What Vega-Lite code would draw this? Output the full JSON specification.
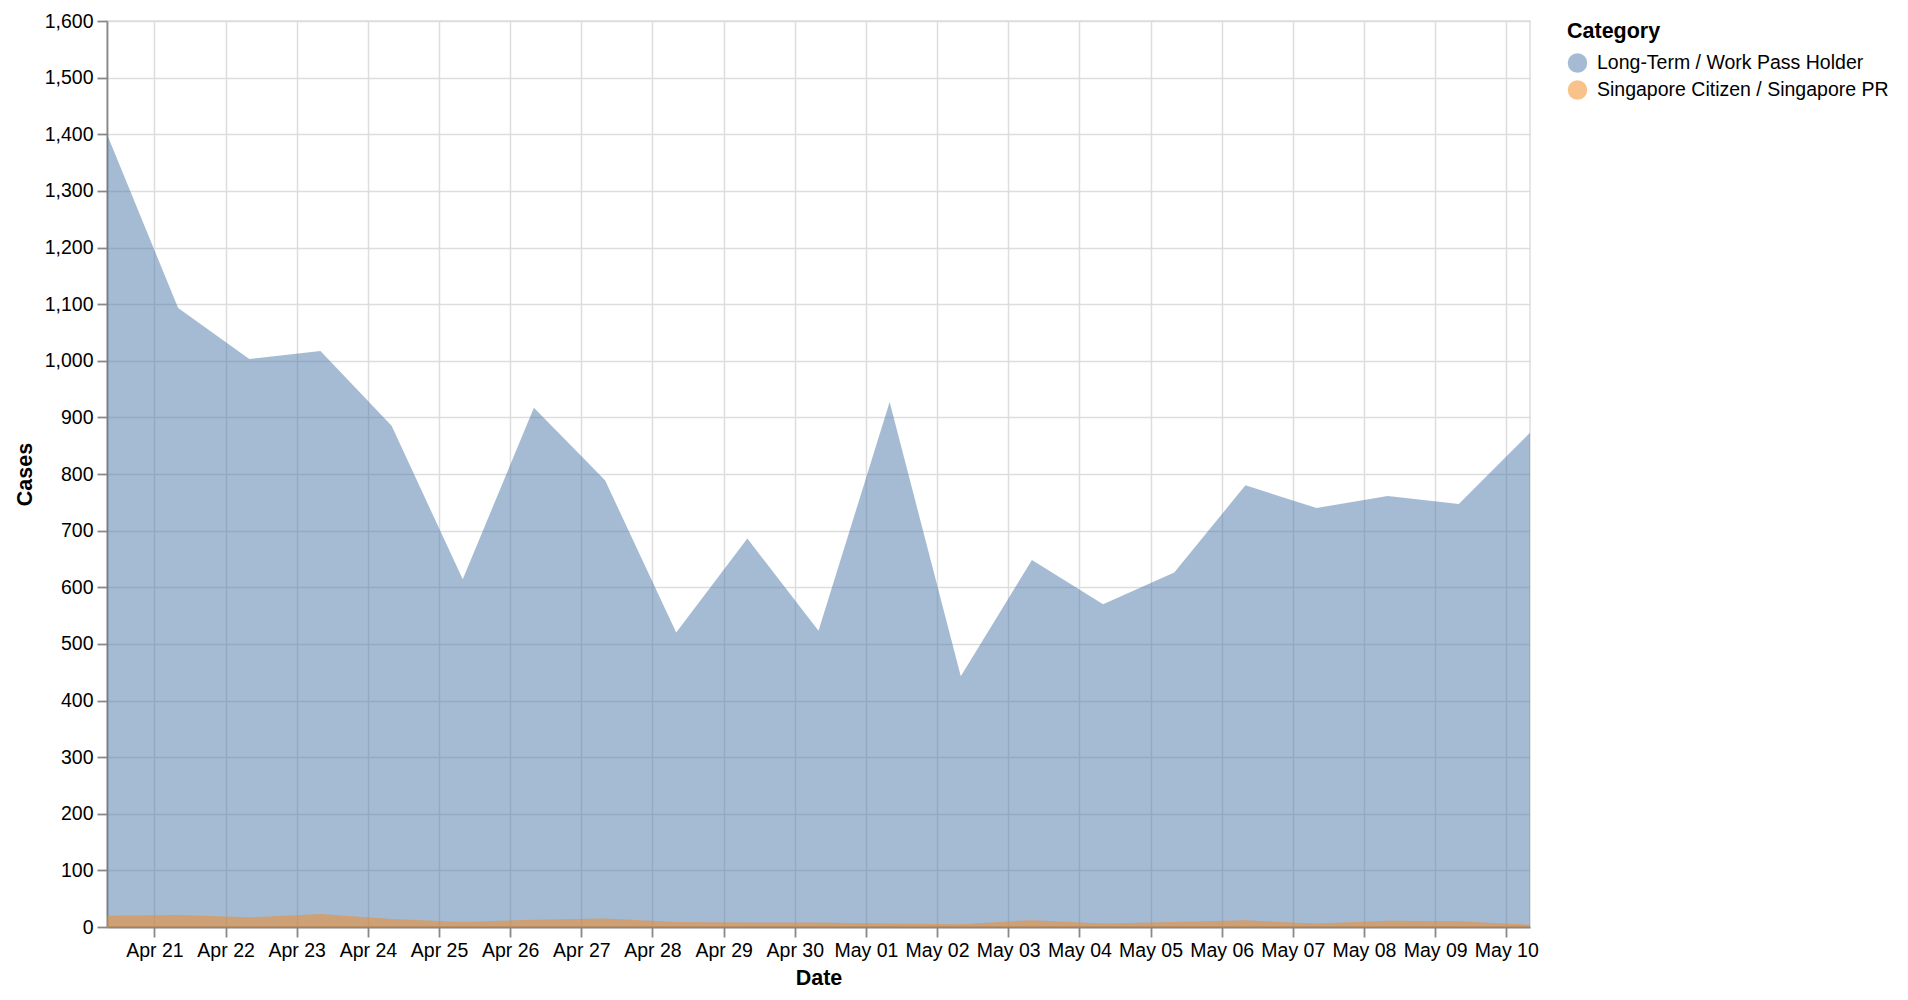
{
  "$schema": "https://vega.github.io/schema/vega-lite/v6.json",
  "width": 1423,
  "height": 906,
  "autosize": {"type": "none"},
  "padding": {"left": 107, "top": 21, "right": 378, "bottom": 73},
  "config": {
    "font": "Liberation Sans",
    "axis": {
      "labelFontSize": 19.5,
      "titleFontSize": 21.5,
      "tickSize": 10,
      "labelPadding": 4,
      "titlePadding": 8,
      "tickWidth": 1.8,
      "domainWidth": 1.8,
      "gridWidth": 1.5,
      "labelColor": "#000",
      "titleColor": "#000"
    },
    "legend": {
      "labelFontSize": 19.5,
      "titleFontSize": 21.5,
      "symbolSize": 380,
      "offset": 37,
      "labelLimit": 600,
      "rowPadding": 6,
      "titlePadding": 10,
      "labelOffset": 9,
      "symbolType": "circle",
      "labelColor": "#000",
      "titleColor": "#000"
    },
    "view": {"strokeWidth": 1.5}
  },
  "data": {
    "values": [
      {"Date": "2020-04-20T08:00:00", "Category": "Long-Term / Work Pass Holder", "Cases": 1400},
      {"Date": "2020-04-21T08:00:00", "Category": "Long-Term / Work Pass Holder", "Cases": 1093},
      {"Date": "2020-04-22T08:00:00", "Category": "Long-Term / Work Pass Holder", "Cases": 1003},
      {"Date": "2020-04-23T08:00:00", "Category": "Long-Term / Work Pass Holder", "Cases": 1017},
      {"Date": "2020-04-24T08:00:00", "Category": "Long-Term / Work Pass Holder", "Cases": 885},
      {"Date": "2020-04-25T08:00:00", "Category": "Long-Term / Work Pass Holder", "Cases": 614},
      {"Date": "2020-04-26T08:00:00", "Category": "Long-Term / Work Pass Holder", "Cases": 917},
      {"Date": "2020-04-27T08:00:00", "Category": "Long-Term / Work Pass Holder", "Cases": 789},
      {"Date": "2020-04-28T08:00:00", "Category": "Long-Term / Work Pass Holder", "Cases": 520},
      {"Date": "2020-04-29T08:00:00", "Category": "Long-Term / Work Pass Holder", "Cases": 686},
      {"Date": "2020-04-30T08:00:00", "Category": "Long-Term / Work Pass Holder", "Cases": 523},
      {"Date": "2020-05-01T08:00:00", "Category": "Long-Term / Work Pass Holder", "Cases": 927},
      {"Date": "2020-05-02T08:00:00", "Category": "Long-Term / Work Pass Holder", "Cases": 443},
      {"Date": "2020-05-03T08:00:00", "Category": "Long-Term / Work Pass Holder", "Cases": 648},
      {"Date": "2020-05-04T08:00:00", "Category": "Long-Term / Work Pass Holder", "Cases": 570},
      {"Date": "2020-05-05T08:00:00", "Category": "Long-Term / Work Pass Holder", "Cases": 626},
      {"Date": "2020-05-06T08:00:00", "Category": "Long-Term / Work Pass Holder", "Cases": 780},
      {"Date": "2020-05-07T08:00:00", "Category": "Long-Term / Work Pass Holder", "Cases": 740},
      {"Date": "2020-05-08T08:00:00", "Category": "Long-Term / Work Pass Holder", "Cases": 761},
      {"Date": "2020-05-09T08:00:00", "Category": "Long-Term / Work Pass Holder", "Cases": 747},
      {"Date": "2020-05-10T08:00:00", "Category": "Long-Term / Work Pass Holder", "Cases": 873},
      {"Date": "2020-04-20T08:00:00", "Category": "Singapore Citizen / Singapore PR", "Cases": 20},
      {"Date": "2020-04-21T08:00:00", "Category": "Singapore Citizen / Singapore PR", "Cases": 21},
      {"Date": "2020-04-22T08:00:00", "Category": "Singapore Citizen / Singapore PR", "Cases": 17},
      {"Date": "2020-04-23T08:00:00", "Category": "Singapore Citizen / Singapore PR", "Cases": 23},
      {"Date": "2020-04-24T08:00:00", "Category": "Singapore Citizen / Singapore PR", "Cases": 14},
      {"Date": "2020-04-25T08:00:00", "Category": "Singapore Citizen / Singapore PR", "Cases": 9},
      {"Date": "2020-04-26T08:00:00", "Category": "Singapore Citizen / Singapore PR", "Cases": 13},
      {"Date": "2020-04-27T08:00:00", "Category": "Singapore Citizen / Singapore PR", "Cases": 15},
      {"Date": "2020-04-28T08:00:00", "Category": "Singapore Citizen / Singapore PR", "Cases": 9},
      {"Date": "2020-04-29T08:00:00", "Category": "Singapore Citizen / Singapore PR", "Cases": 8},
      {"Date": "2020-04-30T08:00:00", "Category": "Singapore Citizen / Singapore PR", "Cases": 8},
      {"Date": "2020-05-01T08:00:00", "Category": "Singapore Citizen / Singapore PR", "Cases": 6},
      {"Date": "2020-05-02T08:00:00", "Category": "Singapore Citizen / Singapore PR", "Cases": 5},
      {"Date": "2020-05-03T08:00:00", "Category": "Singapore Citizen / Singapore PR", "Cases": 12},
      {"Date": "2020-05-04T08:00:00", "Category": "Singapore Citizen / Singapore PR", "Cases": 6},
      {"Date": "2020-05-05T08:00:00", "Category": "Singapore Citizen / Singapore PR", "Cases": 9},
      {"Date": "2020-05-06T08:00:00", "Category": "Singapore Citizen / Singapore PR", "Cases": 12},
      {"Date": "2020-05-07T08:00:00", "Category": "Singapore Citizen / Singapore PR", "Cases": 6},
      {"Date": "2020-05-08T08:00:00", "Category": "Singapore Citizen / Singapore PR", "Cases": 11},
      {"Date": "2020-05-09T08:00:00", "Category": "Singapore Citizen / Singapore PR", "Cases": 10},
      {"Date": "2020-05-10T08:00:00", "Category": "Singapore Citizen / Singapore PR", "Cases": 4}
    ]
  },
  "mark": {"type": "area", "opacity": 0.5},
  "encoding": {
    "x": {
      "field": "Date",
      "type": "temporal",
      "title": "Date",
      "axis": {"format": "%b %d", "tickCount": {"interval": "day", "step": 1}, "labelOverlap": false}
    },
    "y": {
      "field": "Cases",
      "type": "quantitative",
      "stack": null,
      "title": "Cases",
      "scale": {"domain": [0, 1600]},
      "axis": {"values": [0, 100, 200, 300, 400, 500, 600, 700, 800, 900, 1000, 1100, 1200, 1300, 1400, 1500, 1600]}
    },
    "color": {"field": "Category", "type": "nominal", "title": "Category"}
  }
}
